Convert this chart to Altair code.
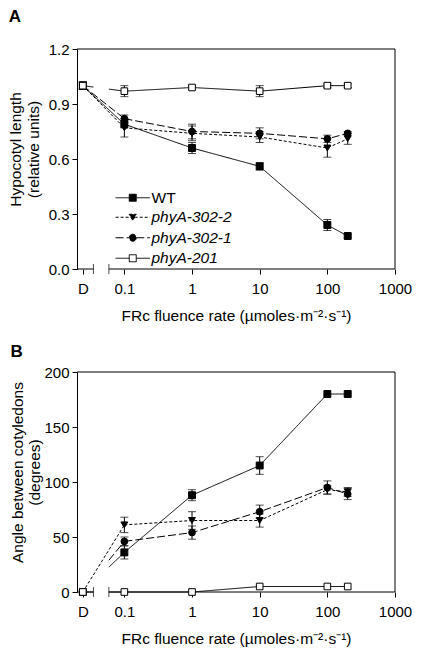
import math
import altair as alt
import pandas as pd

# ---------------- data ----------------
series = ["WT", "phyA-302-2", "phyA-302-1", "phyA-201"]
fluence = [0, 0.1, 1, 10, 100, 200]          # 0 = dark control ("D")
x_tick_labels = ["D", "0.1", "1", "10", "100", "1000"]

# Panel A: hypocotyl length (relative units)
hyp_wt     = [1.00, 0.79, 0.66, 0.56, 0.24, 0.18]
hyp_302_2  = [1.00, 0.77, 0.74, 0.72, 0.66, 0.71]
hyp_302_1  = [1.00, 0.82, 0.75, 0.74, 0.71, 0.74]
hyp_201    = [1.00, 0.97, 0.99, 0.97, 1.00, 1.00]
hyp_wt_err    = [0.02, 0.02, 0.03, 0.02, 0.03, 0.01]
hyp_302_2_err = [0.02, 0.05, 0.04, 0.03, 0.05, 0.03]
hyp_302_1_err = [0.02, 0.02, 0.04, 0.03, 0.02, 0.01]
hyp_201_err   = [0.00, 0.03, 0.01, 0.03, 0.01, 0.01]

# Panel B: angle between cotyledons (degrees)
ang_wt     = [0, 36, 88, 115, 180, 180]
ang_302_2  = [0, 61, 65, 65, 93, 91]
ang_302_1  = [0, 46, 54, 73, 95, 89]
ang_201    = [0, 0, 0, 5, 5, 5]
ang_wt_err    = [0, 6, 5, 8, 0, 0]
ang_302_2_err = [0, 7, 8, 6, 4, 4]
ang_302_1_err = [0, 4, 6, 6, 6, 5]
ang_201_err   = [0, 0, 0, 0, 0, 0]

yticks_a = [0, 0.3, 0.6, 0.9, 1.2]
yticks_b = [0, 50, 100, 150, 200]

# how the D -> 0.1 segment is drawn across the axis break
modes_a = {"WT": "full", "phyA-302-2": "full", "phyA-302-1": "full", "phyA-201": "both"}
modes_b = {"WT": "right", "phyA-302-2": "full", "phyA-302-1": "right", "phyA-201": "both"}

# ---------------- layout / style constants ----------------
X_MIN, X_MAX = -1.7, 3.0
D_POS = -1.614
BREAK = [-1.457, -1.229]
W, H = 318, 220
FONT = "Liberation Sans"
LBL = 15
TTL = 15.5

shapes = ["square", "triangle-down", "circle", "square"]
fills = ["black", "black", "black", "white"]
sizes = [48, 44, 42, 48]
dashes = [[1, 0], [3, 2], [8, 3], [1, 0]]
legend_paths = [
    "M-4.9,0H-1M1,0H4.9M-1,-1H1V1H-1Z",
    "M-4.9,0H-0.55M0.55,0H4.9M-1,-0.85H1L0,0.95Z",
    "M-4.9,0H-1M1,0H4.9M1,0A1,1,0,1,1,-1,0A1,1,0,1,1,1,0Z",
    "M-4.9,0H-1M1,0H4.9M-1,-1H1V1H-1Z",
]


def xpos(f):
    return D_POS if f == 0 else math.log10(f)


tick_vals = [D_POS] + [math.log10(float(t)) for t in x_tick_labels[1:]]
label_expr = "''"
for pos, lbl in reversed(list(zip(tick_vals, x_tick_labels))):
    label_expr = f"abs(datum.value - ({pos:.4f})) < 0.01 ? '{lbl}' : {label_expr}"


def long_df(vals, errs):
    rows = []
    for s in series:
        for f, v, e in zip(fluence, vals[s], errs[s]):
            rows.append(dict(series=s, f=f, xp=xpos(f), val=v, lo=v - e, hi=v + e, err=e))
    return pd.DataFrame(rows)


def seg_df(df, modes):
    rows = []
    for s in series:
        d = df[df.series == s].reset_index(drop=True)
        x0, y0 = d.loc[0, "xp"], d.loc[0, "val"]
        x1, y1 = d.loc[1, "xp"], d.loc[1, "val"]

        def yat(x):
            return y0 + (y1 - y0) * (x - x0) / (x1 - x0)

        m = modes[s]
        if m == "full":
            rows.append((s, x0, y0, x1, y1))
        else:
            rows.append((s, BREAK[1], yat(BREAK[1]), x1, y1))
            if m == "both":
                rows.append((s, x0, y0, BREAK[0], yat(BREAK[0])))
    return pd.DataFrame(rows, columns=["series", "xa", "ya", "xb", "yb"])


def panel(vals, errs, modes, ymax, yticks, fmt, ytitle, letter, title_offset,
          ytitle_pad, xlabel_pad, xtitle_pad, with_legend):
    df = long_df(vals, errs)
    seg = seg_df(df, modes)
    xscale = alt.Scale(domain=[X_MIN, X_MAX], nice=False, zero=False)
    yscale = alt.Scale(domain=[0, ymax], nice=False, zero=False)
    xaxis = alt.Axis(values=tick_vals, labelExpr=label_expr, domain=False, grid=False,
                     tickSize=5, labelPadding=xlabel_pad, titlePadding=xtitle_pad,
                     labelFlush=False, labelOverlap=False, labelFontSize=LBL,
                     titleFontSize=TTL, labelFont=FONT, titleFont=FONT,
                     titleFontWeight="normal")
    yaxis = alt.Axis(values=yticks, format=fmt, grid=False, tickSize=5, labelPadding=3,
                     titlePadding=ytitle_pad, titleY=100, labelFlush=False,
                     labelFontSize=LBL, titleFontSize=TTL, labelFont=FONT, titleFont=FONT,
                     titleFontWeight="normal")
    xtitle = "FRc fluence rate (µmoles·m⁻²·s⁻¹)"

    def X(field):
        return alt.X(f"{field}:Q", scale=xscale, axis=xaxis, title=xtitle)

    def Y(field):
        return alt.Y(f"{field}:Q", scale=yscale, axis=yaxis, title=ytitle)

    dash_enc = alt.StrokeDash("series:N", scale=alt.Scale(domain=series, range=dashes), legend=None)

    # frame (top, right, broken bottom)
    frame = pd.DataFrame({
        "xa": [X_MIN, X_MAX, X_MIN, BREAK[1]],
        "xb": [X_MAX, X_MAX, BREAK[0], X_MAX],
        "ya": [ymax, 0, 0, 0],
        "yb": [ymax, ymax, 0, 0],
    })
    frame_l = alt.Chart(frame).mark_rule(color="black", strokeWidth=1).encode(
        x=X("xa"), x2="xb", y=Y("ya"), y2="yb")
    brk = alt.Chart(pd.DataFrame({"xp": BREAK, "val": [0, 0]})).mark_tick(
        orient="vertical", size=10, thickness=1, color="black").encode(x=X("xp"), y=Y("val"))

    lines = alt.Chart(df[df.f > 0]).mark_line(color="black", strokeWidth=1).encode(
        x=X("xp"), y=Y("val"), strokeDash=dash_enc, detail="series:N",
        order="xp:Q")
    segs = alt.Chart(seg).mark_rule(color="black", strokeWidth=1).encode(
        x=X("xa"), x2="xb", y=Y("ya"), y2="yb", strokeDash=dash_enc)

    edf = df[df.err > 0]
    ebar = alt.Chart(edf).mark_rule(color="black", strokeWidth=1).encode(
        x=X("xp"), y=Y("lo"), y2="hi")
    caps_df = pd.concat([edf.assign(cap=edf.lo), edf.assign(cap=edf.hi)])
    caps = alt.Chart(caps_df).mark_tick(orient="horizontal", size=8, thickness=1,
                                        color="black").encode(x=X("xp"), y=Y("cap"))

    pts = alt.Chart(df).mark_point(filled=True, stroke="black", strokeWidth=1, opacity=1).encode(
        x=X("xp"), y=Y("val"),
        shape=alt.Shape("series:N", scale=alt.Scale(domain=series, range=shapes), legend=None),
        fill=alt.Fill("series:N", scale=alt.Scale(domain=series, range=fills), legend=None),
        size=alt.Size("series:N", scale=alt.Scale(domain=series, range=sizes), legend=None),
    )

    layers = [frame_l, brk, segs, lines, ebar, caps, pts]

    if with_legend:
        def leg_layer(names, lx, ly, style):
            idx = [series.index(n) for n in names]
            lg = alt.Legend(orient="none", legendX=lx, legendY=ly, title=None,
                            labelFontSize=TTL, labelFont=FONT, labelFontStyle=style,
                            labelColor="black", symbolStrokeColor="black",
                            symbolStrokeWidth=1, symbolOpacity=1, symbolSize=49,
                            labelOffset=11, rowPadding=3.5, padding=0)
            d0 = df[(df.f == 0) & (df.series.isin(names))]
            return alt.Chart(d0).mark_point(filled=True, opacity=0, size=49).encode(
                x=X("xp"), y=Y("val"),
                shape=alt.Shape("series:N", scale=alt.Scale(
                    domain=names, range=[legend_paths[i] for i in idx]), legend=lg),
                fill=alt.Fill("series:N", scale=alt.Scale(
                    domain=names, range=[fills[i] for i in idx]), legend=lg),
                stroke=alt.Stroke("series:N", scale=alt.Scale(
                    domain=names, range=["black"] * len(names)), legend=lg),
                strokeDash=alt.StrokeDash("series:N", scale=alt.Scale(
                    domain=names, range=[dashes[i] for i in idx]), legend=lg),
            )
        layers.append(leg_layer(["WT"], 48, 141, "normal"))
        layers.append(leg_layer(["phyA-302-2", "phyA-302-1", "phyA-201"], 48, 160.5, "italic"))

    return alt.layer(*layers).resolve_scale(
        shape="independent", fill="independent", strokeDash="independent",
        stroke="independent"
    ).properties(
        width=W, height=H,
        title=alt.TitleParams(letter, anchor="start", frame="bounds", offset=title_offset,
                              fontSize=17, fontWeight="bold", font=FONT, color="black"),
    )


vals_a = dict(zip(series, [hyp_wt, hyp_302_2, hyp_302_1, hyp_201]))
errs_a = dict(zip(series, [hyp_wt_err, hyp_302_2_err, hyp_302_1_err, hyp_201_err]))
vals_b = dict(zip(series, [ang_wt, ang_302_2, ang_302_1, ang_201]))
errs_b = dict(zip(series, [ang_wt_err, ang_302_2_err, ang_302_1_err, ang_201_err]))

pa = panel(vals_a, errs_a, modes_a, 1.2, yticks_a, ".1f",
           ["Hypocotyl length", "(relative units)"], "A", 16, 7, 7, 12, True)
pb = panel(vals_b, errs_b, modes_b, 200, yticks_b, "d",
           ["Angle between cotyledons", "(degrees)"], "B", 4, 1, 7, 12, False)

chart = alt.vconcat(pa, pb, spacing=19).properties(
    padding={"left": 0, "top": 0, "right": 0, "bottom": 0}
).configure(font=FONT).configure_axis(
    labelColor="black", titleColor="black", domainColor="black",
    tickColor="black", domainWidth=1, tickWidth=1,
).configure_view(stroke=None)

chart.save("out.html", embed_options={"renderer": "svg", "actions": False})
